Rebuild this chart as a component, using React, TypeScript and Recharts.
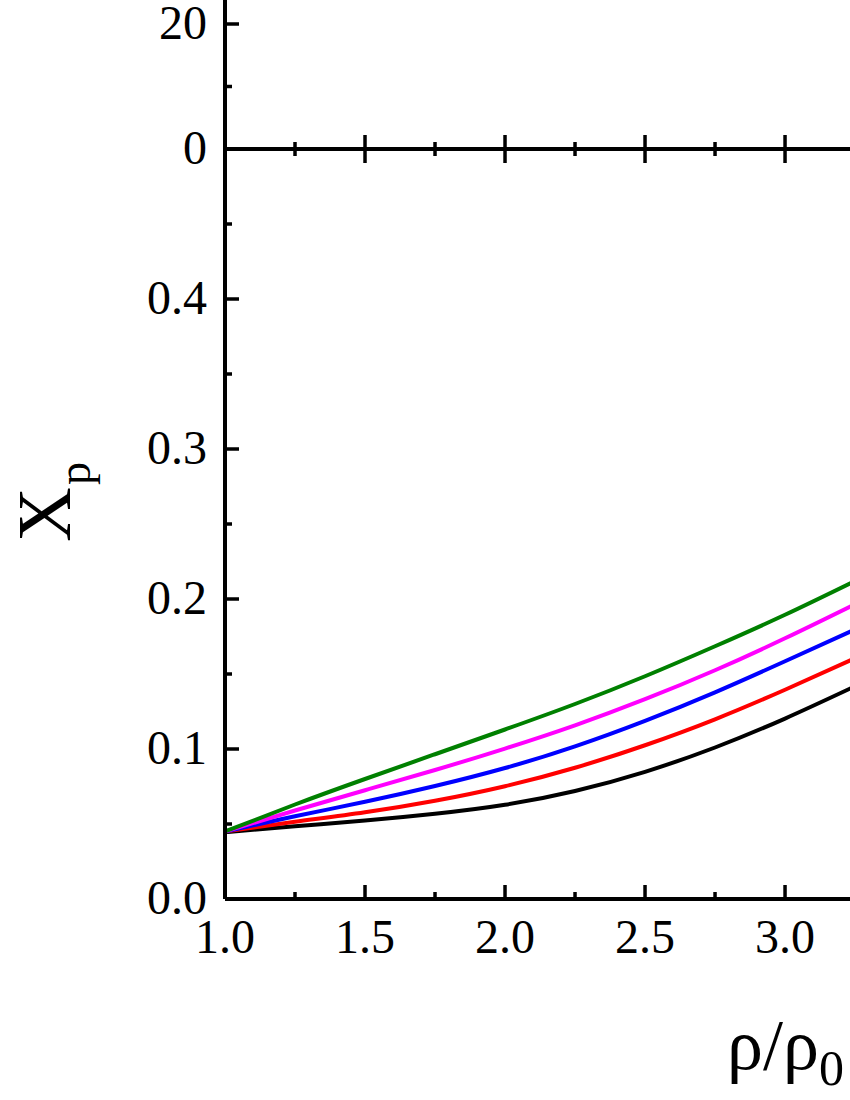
import { LineChart, Line, XAxis, YAxis } from "recharts";

// density ratio rho/rho0
const rho = [1.0, 1.25, 1.5, 1.75, 2.0, 2.25, 2.5, 2.75, 3.0, 3.25];

// proton fraction Xp for each curve
const xpBlack = [0.0445, 0.0485, 0.0523, 0.0568, 0.0628, 0.072, 0.0848, 0.101, 0.1203, 0.1418];
const xpRed = [0.045, 0.0515, 0.0578, 0.0655, 0.0752, 0.0875, 0.1025, 0.1198, 0.1395, 0.1605];
const xpBlue = [0.045, 0.0552, 0.0648, 0.0753, 0.0873, 0.1018, 0.1188, 0.1378, 0.1585, 0.1797];
const xpMagenta = [0.045, 0.059, 0.0725, 0.086, 0.1003, 0.1158, 0.1332, 0.1525, 0.1738, 0.1965];
const xpGreen = [0.045, 0.063, 0.08, 0.0965, 0.113, 0.13, 0.1485, 0.1685, 0.1895, 0.212];

const xTicks = [1.0, 1.25, 1.5, 1.75, 2.0, 2.25, 2.5, 2.75, 3.0];
const bottomYTicks = [0, 0.05, 0.1, 0.15, 0.2, 0.25, 0.3, 0.35, 0.4, 0.45];
const topYTicks = [0, 10, 20];

const series = [
  { key: "black", color: "#000000" },
  { key: "red", color: "#ff0000" },
  { key: "blue", color: "#0000ff" },
  { key: "magenta", color: "#ff00ff" },
  { key: "green", color: "#008000" },
];

const data = rho.map((r, i) => ({
  rho: r,
  black: xpBlack[i],
  red: xpRed[i],
  blue: xpBlue[i],
  magenta: xpMagenta[i],
  green: xpGreen[i],
}));

const FONT = '"Liberation Serif", "Times New Roman", serif';
const X_DOMAIN: [number, number] = [1, 3.232];
const axisStyle = { stroke: "#000", strokeWidth: 4 };

const isMult = (v: number, step: number) =>
  Math.abs(v / step - Math.round(v / step)) < 1e-6;

function BottomYTick(props: any) {
  const { x, y, payload } = props;
  const v = payload.value as number;
  const major = isMult(v, 0.1);
  return (
    <g>
      <line x1={x} x2={x + (major ? 14 : 7)} y1={y} y2={y} stroke="#000" strokeWidth={3.5} />
      {major && (
        <text x={x - 18} y={y + 15} textAnchor="end" fontSize={48} fontFamily={FONT} fill="#000">
          {v.toFixed(1)}
        </text>
      )}
    </g>
  );
}

function TopYTick(props: any) {
  const { x, y, payload } = props;
  const v = payload.value as number;
  const major = isMult(v, 20);
  return (
    <g>
      <line x1={x} x2={x + (major ? 14 : 7)} y1={y} y2={y} stroke="#000" strokeWidth={3.5} />
      {major && (
        <text x={x - 18} y={y + 15} textAnchor="end" fontSize={48} fontFamily={FONT} fill="#000">
          {v}
        </text>
      )}
    </g>
  );
}

function BottomXTick(props: any) {
  const { x, y, payload } = props;
  const v = payload.value as number;
  const major = isMult(v, 0.5);
  return (
    <g>
      <line x1={x} x2={x} y1={y} y2={y - (major ? 14 : 7)} stroke="#000" strokeWidth={3.5} />
      {major && (
        <text x={x} y={y + 54} textAnchor="middle" fontSize={48} fontFamily={FONT} fill="#000">
          {v.toFixed(1)}
        </text>
      )}
    </g>
  );
}

function TopXTick(props: any) {
  const { x, y, payload } = props;
  const v = payload.value as number;
  const len = isMult(v, 0.5) ? 14 : 7;
  return <line x1={x} x2={x} y1={y - len} y2={y + len} stroke="#000" strokeWidth={3.5} />;
}

export default function App() {
  return (
    <div
      style={{
        position: "absolute",
        left: 0,
        top: 0,
        width: 850,
        height: 1100,
        overflow: "hidden",
        background: "#fff",
        fontFamily: FONT,
      }}
    >
      {/* upper panel, only its bottom strip is visible */}
      <div style={{ position: "absolute", left: 0, top: 0 }}>
        <LineChart width={850} height={200} data={data} margin={{ top: 0, right: 0, bottom: 0, left: 0 }}>
          <XAxis
            dataKey="rho"
            type="number"
            domain={X_DOMAIN}
            allowDataOverflow
            ticks={xTicks}
            interval={0}
            height={51}
            tickSize={0}
            tickMargin={0}
            tickLine={false}
            axisLine={axisStyle}
            tick={<TopXTick />}
          />
          <YAxis
            type="number"
            domain={[0, 23.84]}
            allowDataOverflow
            ticks={topYTicks}
            interval={0}
            width={225}
            tickSize={0}
            tickMargin={0}
            tickLine={false}
            axisLine={axisStyle}
            tick={<TopYTick />}
          />
        </LineChart>
      </div>

      {/* lower panel: Xp vs rho/rho0 */}
      <div style={{ position: "absolute", left: 0, top: 149 }}>
        <LineChart width={850} height={951} data={data} margin={{ top: 0, right: 0, bottom: 0, left: 0 }}>
          <XAxis
            dataKey="rho"
            type="number"
            domain={X_DOMAIN}
            allowDataOverflow
            ticks={xTicks}
            interval={0}
            height={201}
            tickSize={0}
            tickMargin={0}
            tickLine={false}
            axisLine={axisStyle}
            tick={<BottomXTick />}
          />
          <YAxis
            type="number"
            domain={[0, 0.5]}
            allowDataOverflow
            ticks={bottomYTicks}
            interval={0}
            width={225}
            tickSize={0}
            tickMargin={0}
            tickLine={false}
            axisLine={axisStyle}
            tick={<BottomYTick />}
          />
          {series.map((s) => (
            <Line
              key={s.key}
              type="natural"
              dataKey={s.key}
              stroke={s.color}
              strokeWidth={4}
              dot={false}
              isAnimationActive={false}
            />
          ))}
        </LineChart>
      </div>

      {/* axis titles */}
      <svg
        width={850}
        height={1100}
        style={{ position: "absolute", left: 0, top: 0, pointerEvents: "none" }}
      >
        <text
          x={70}
          y={542}
          transform="rotate(-90 70 542)"
          fontSize={76}
          fontFamily={FONT}
          fill="#000"
        >
          X
          <tspan dx={2} dy={20} fontSize={46}>
            p
          </tspan>
        </text>
        <text x={727} y={1069} fontSize={72} fontFamily={FONT} fill="#000">
          ρ/ρ
          <tspan dy={16} fontSize={50}>
            0
          </tspan>
        </text>
      </svg>
    </div>
  );
}
